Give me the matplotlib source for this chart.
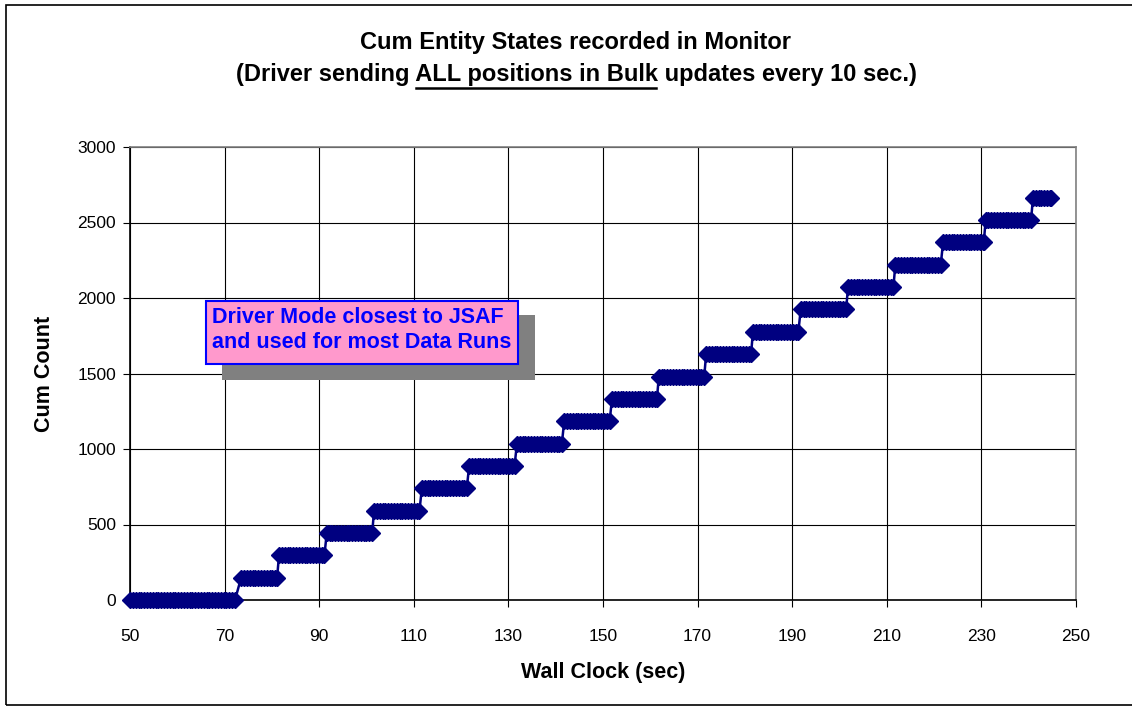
import numpy as np
import matplotlib
matplotlib.use("Agg")
import matplotlib.pyplot as plt
from matplotlib.patches import Rectangle

plt.rcParams['font.family'] = ['Liberation Sans', 'DejaVu Sans']

# plateaus of the cumulative count: first sample time, last sample time, count
step_start = [50.0, 73.5, 81.5, 91.6, 101.6, 111.7, 121.7, 131.8, 141.8, 151.9,
              161.8, 171.8, 181.7, 191.8, 201.8, 211.8, 221.9, 230.9, 240.9]
step_end = [72.4, 81.1, 91.2, 101.2, 111.3, 121.2, 131.4, 141.3, 151.5, 161.4,
            171.4, 181.3, 191.4, 201.4, 211.5, 221.5, 230.5, 240.5, 244.7]
step_count = [0, 148, 296, 444, 592, 740, 888, 1036, 1184, 1332,
              1480, 1628, 1776, 1924, 2072, 2220, 2368, 2516, 2664]
sample_dt = 0.6   # monitor sampling period

xs, ys = [], []
for s, e, c in zip(step_start, step_end, step_count):
    t = np.arange(s, e + 1e-6, sample_dt)
    if t[-1] < e - 0.2:
        t = np.append(t, e)
    xs.extend(t)
    ys.extend([c] * len(t))

W, H = 1132, 707
fig = plt.figure(figsize=(W / 100, H / 100), dpi=100)
ax = fig.add_axes([130 / W, 1 - 600 / H, (1076 - 130) / W, (600 - 147) / H])

ax.plot(xs, ys, color='#000080', lw=1.8, marker='D', ms=8,
        markerfacecolor='#000080', markeredgecolor='#000080', zorder=3,
        clip_on=False)

ax.set_xlim(50, 250)
ax.set_ylim(0, 3000)
ax.set_xticks(range(50, 251, 20))
ax.set_yticks(range(0, 3001, 500))
ax.grid(True, color='black', lw=0.8)
ax.set_axisbelow(True)
for sp in ax.spines.values():
    sp.set_color('#808080')
    sp.set_linewidth(1.2)
ax.spines['left'].set_color('black')
ax.spines['bottom'].set_color('black')
ax.tick_params(direction='out', length=5, width=0.8, labelsize=12.5)
ax.tick_params(axis='x', pad=16)
ax.tick_params(axis='y', pad=5)

ax.set_xlabel('Wall Clock (sec)', fontsize=15.5, fontweight='bold', labelpad=13)
ax.set_ylabel('Cum Count', fontsize=15.5, fontweight='bold', labelpad=16)

# title, second line with an underlined part
tx, fs = 576 / W, 17
fig.text(tx, 1 - 42 / H, 'Cum Entity States recorded in Monitor',
         ha='center', va='center', fontsize=fs, fontweight='bold')
pre = '(Driver sending '
mid = 'ALL positions in Bulk'
post = ' updates every 10 sec.)'
line2 = fig.text(tx, 1 - 74 / H, pre + mid + post, ha='center', va='center',
                 fontsize=fs, fontweight='bold')
fig.canvas.draw()
r = fig.canvas.get_renderer()


def width(s):
    t = fig.text(0, 0, s, fontsize=fs, fontweight='bold')
    w = t.get_window_extent(r).width
    t.remove()
    return w


bb = line2.get_window_extent(r)
x_end = bb.x0 + width(pre + mid)
x_beg = x_end - width(mid)
uy = 1 - 88 / H
fig.add_artist(plt.Line2D([(x_beg + 1) / W, (x_end - 2) / W], [uy, uy],
                          color='black', lw=1.8))

# annotation box with shadow
fig.add_artist(Rectangle((222 / W, 1 - 380 / H), (535 - 222) / W, (380 - 315) / H,
                         transform=fig.transFigure, facecolor='#808080',
                         edgecolor='none', zorder=4))
fig.add_artist(Rectangle((206 / W, 1 - 364 / H), (518 - 206) / W, (364 - 301) / H,
                         transform=fig.transFigure, facecolor='#FF99CC',
                         edgecolor='#0000FF', lw=1.5, zorder=5))
fig.text(212 / W, 1 - 330 / H, 'Driver Mode closest to JSAF\nand used for most Data Runs',
         ha='left', va='center', color='#0000FF', fontsize=15.5, fontweight='bold',
         linespacing=1.3, zorder=6)

# chart area border (runs off the right edge)
fig.add_artist(Rectangle((6 / W, 2 / H), (W + 10 - 6) / W, (705 - 5) / H,
                         transform=fig.transFigure, facecolor='none',
                         edgecolor='black', lw=1.2))

fig.savefig('out.png', dpi=100)
